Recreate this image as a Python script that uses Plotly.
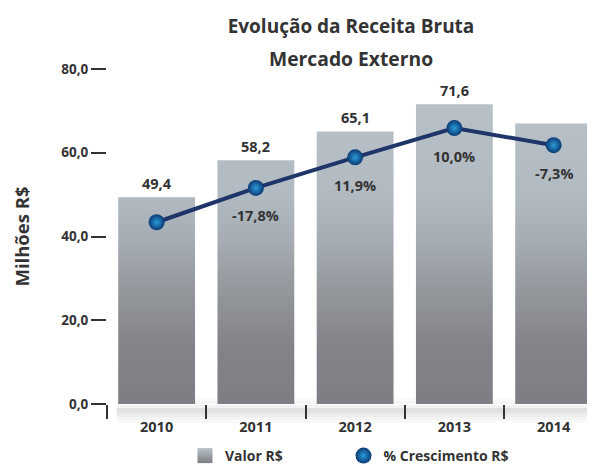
import plotly.graph_objects as go

# ---- data ----
anos = ["2010", "2011", "2012", "2013", "2014"]
valor = [49.4, 58.2, 65.1, 71.6, 67.0]          # Valor R$ (milhões); 2014 estimated (no label)
valor_rotulo = ["49,4", "58,2", "65,1", "71,6", ""]
cresc_pos = [43.4, 51.6, 58.9, 65.9, 61.8]       # height of the growth line markers
cresc_rotulo = ["", "-17,8%", "11,9%", "10,0%", "-7,3%"]
y_ticks = [0, 20, 40, 60, 80]

DARK = "#333333"
FONT = "Open Sans"
BAR_HALF = 0.387
W, H = 595, 465

xi = list(range(len(anos)))

# bars drawn as filled rectangles so a vertical gradient can be applied
bx, by = [], []
for i, v in zip(xi, valor):
    bx += [i - BAR_HALF, i + BAR_HALF, i + BAR_HALF, i - BAR_HALF, i - BAR_HALF, None]
    by += [0, 0, v, v, 0, None]

fig = go.Figure()

fig.add_trace(go.Scatter(
    x=bx, y=by, mode="none", fill="toself",
    fillgradient=dict(
        type="vertical", start=0, stop=72,
        colorscale=[[0, "#7e7f84"], [0.18, "#828388"], [0.35, "#919499"],
                    [0.54, "#a5acb3"], [0.69, "#b2bac1"], [1, "#b8c1c8"]],
    ),
    showlegend=False, hoverinfo="skip",
))

# legend-only entry for the bars
fig.add_trace(go.Scatter(
    x=[None], y=[None], mode="markers", name="Valor R$", legend="legend",
    marker=dict(symbol="square", size=15, color="#b8c1c8",
                gradient=dict(type="vertical", color="#7e7f84")),
))

# growth line
fig.add_trace(go.Scatter(
    x=xi, y=cresc_pos, mode="lines",
    line=dict(color="#1f3468", width=4),
    showlegend=False, hoverinfo="skip",
))
fig.add_trace(go.Scatter(
    x=xi, y=cresc_pos, mode="markers", name="% Crescimento R$", legend="legend2",
    marker=dict(size=16, color="#0b3a74",
                gradient=dict(type="radial", color="#2a9bd8"),
                line=dict(width=0)),
))

PH = 335.0
annotations = []
for i, v, t in zip(xi, valor, valor_rotulo):
    if t:
        annotations.append(dict(x=i, y=v, xref="x", yref="y", text=t, showarrow=False,
                                yanchor="bottom", yshift=2,
                                font=dict(family=FONT, size=14.5, color=DARK, weight="bold")))
for i, v, t in zip(xi, cresc_pos, cresc_rotulo):
    if t:
        annotations.append(dict(x=i, y=v, xref="x", yref="y", text=t, showarrow=False,
                                yanchor="middle", yshift=-28,
                                font=dict(family=FONT, size=14.5, color=DARK, weight="bold")))
annotations.append(dict(x=0.5, y=1 + 11 / PH, xref="paper", yref="paper", text="Mercado Externo",
                        showarrow=False, yanchor="middle",
                        font=dict(family=FONT, size=19.3, color=DARK, weight="bold")))

# soft shadow under the bars
shapes = []
strips = [(-1, 0.05), (-4, 0.12), (-7, 0.10), (-10, 0.07), (-13, 0.045), (-16, 0.02),
          (6, 0.02), (3, 0.04)]
for top, a in strips:
    shapes.append(dict(type="rect", xref="paper", yref="paper", layer="below",
                       x0=0.02, x1=1.0, y0=(top - 3) / PH, y1=top / PH,
                       fillcolor=f"rgba(0,0,0,{a})", line=dict(width=0)))

legend_font = dict(family=FONT, size=14, color=DARK, weight="bold")

fig.update_layout(
    width=W, height=H,
    margin=dict(l=99, r=8, t=61, b=69, autoexpand=False),
    paper_bgcolor="white", plot_bgcolor="white",
    separators=",.",
    font=dict(family=FONT, color=DARK),
    title=dict(text="Evolução da Receita Bruta", x=0.5, xref="paper", xanchor="center",
               y=1 - 18 / H, yref="container", yanchor="middle",
               font=dict(family=FONT, size=19, color=DARK, weight="bold")),
    xaxis=dict(range=[-0.5, 4.417], tickmode="array", tickvals=xi, ticktext=anos,
               ticks="", showgrid=False, zeroline=False, showline=False,
               ticklabelstandoff=12, automargin=False,
               tickfont=dict(family=FONT, size=14.5, color=DARK, weight="bold"),
               minor=dict(tickmode="array", tickvals=[-0.5, 0.5, 1.5, 2.5, 3.5],
                          ticks="outside", ticklen=14, tickwidth=1.5, tickcolor=DARK,
                          showgrid=False)),
    yaxis=dict(range=[0, 80], tickmode="array", tickvals=y_ticks, tickformat=".1f",
               ticks="outside", ticklen=15, tickwidth=1.5, tickcolor=DARK,
               showgrid=False, zeroline=False, showline=False, automargin=False,
               tickfont=dict(family=FONT, size=13.5, color=DARK, weight="bold"),
               title=dict(text="Milhões R$", standoff=26,
                          font=dict(family=FONT, size=18.5, color=DARK, weight="bold"))),
    legend=dict(orientation="h", xref="container", yref="container",
                x=177 / W, xanchor="left", y=1 - 448 / H, yanchor="middle",
                font=legend_font, bgcolor="rgba(0,0,0,0)"),
    legend2=dict(orientation="h", xref="container", yref="container",
                 x=335.5 / W, xanchor="left", y=1 - 448 / H, yanchor="middle",
                 font=legend_font, bgcolor="rgba(0,0,0,0)"),
    annotations=annotations,
    shapes=shapes,
)

fig.write_html("out.html")
